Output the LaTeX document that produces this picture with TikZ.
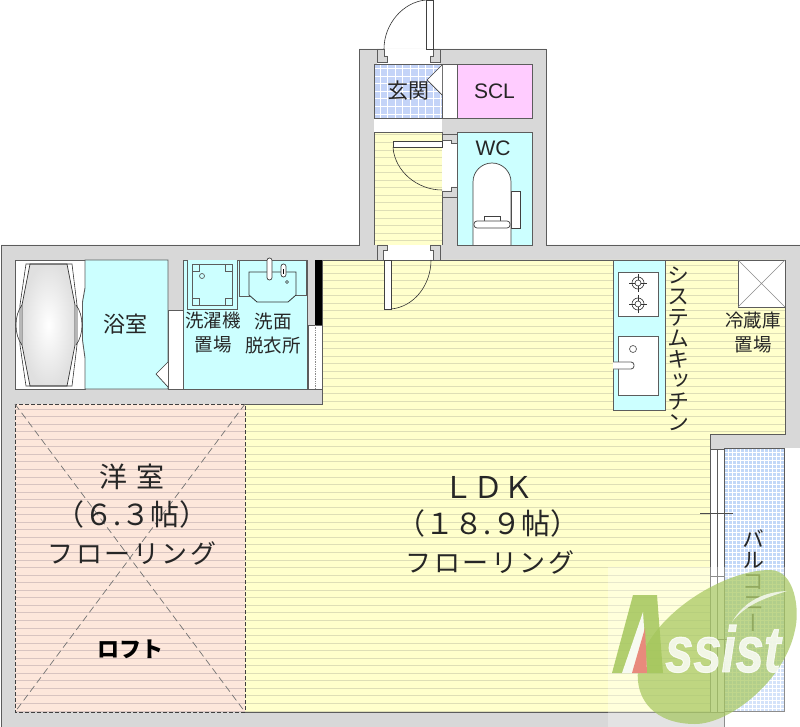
\documentclass[tikz,border=0pt]{standalone}
\usepackage{fontspec}
\setmainfont{Liberation Sans}
\newfontfamily\cjk{Noto Sans CJK JP}
\newfontfamily\cjkspaced{Noto Sans CJK JP}[LetterSpace=10]
\newfontfamily\cjkvert{Noto Sans CJK JP}[RawFeature={+vert}]
\newfontfamily\logofont{Liberation Sans}[FakeBold=1.5]
\usepackage{xcolor}
\usetikzlibrary{calc}
\definecolor{wallgray}{HTML}{D8D8D8}
\definecolor{edgegray}{HTML}{5C5C5C}
\definecolor{floorcream}{HTML}{FFFFCC}
\definecolor{floorline}{HTML}{DEDEB6}
\definecolor{floorpeach}{HTML}{FDE7DB}
\definecolor{peachline}{HTML}{D8C4C0}
\definecolor{wetcyan}{HTML}{CCFFFF}
\definecolor{tileblue}{HTML}{C4D4F8}
\definecolor{balconyblue}{HTML}{C2D8F8}
\definecolor{sclpink}{HTML}{FFCCFF}
\definecolor{logogreen}{HTML}{A4C65C}
\definecolor{logored}{HTML}{E88A7C}
\tikzset{
 edge/.style={draw=edgegray, line width=.9},
 fixture/.style={draw=black!75, line width=.7, fill=white},
 thinline/.style={draw=black!80, line width=.6},
 jamb/.style={edge, fill=wallgray},
 lbl/.style={inner sep=0, text=black!85, align=center, font=\cjk\fontsize{#1}{24}\selectfont},
 lblwide/.style={inner sep=0, text=black!85, align=center, font=\cjkspaced\fontsize{#1}{24}\selectfont},
 lblvert/.style={inner sep=0, text=black!85, align=center, font=\cjkvert\fontsize{22}{21}\selectfont},
 lbllatin/.style={inner sep=0, text=black!85, font=\fontsize{21}{24}\selectfont},
}
\begin{document}
\begin{tikzpicture}[x=1pt,y=-1pt]
\useasboundingbox (0,0) rectangle (800,727);
\fill[white] (0,0) rectangle (800,727);

% walls
\draw[edge, fill=wallgray] (359,49) -- (546,49) -- (546,245) -- (800,245) -- (800,448) -- (784,448)
 -- (724,448) -- (724,727) -- (1,727) -- (1,245) -- (359,245) -- cycle;
\fill[white] (784,448) rectangle (800,727);

% floors
\fill[floorcream] (322,260) -- (785,260) -- (785,434) -- (710,434) -- (710,712) -- (245,712) -- (245,404) -- (322,404) -- cycle;
\fill[floorcream] (374,132) rectangle (442,245);
\fill[floorpeach] (15,404) rectangle (245,712);
\begin{scope}
\clip (322,260) -- (785,260) -- (785,434) -- (710,434) -- (710,712) -- (245,712) -- (245,404) -- (322,404) -- cycle;
\foreach \k in {0,...,59} {
 \draw[floorline, line width=1] (240,265.6+7.55*\k) -- (790,265.6+7.55*\k);
}
\end{scope}
\begin{scope}
\clip (374,132) rectangle (442,245);
\foreach \k in {0,...,14} {
 \draw[floorline, line width=1] (370,135+7.55*\k) -- (445,135+7.55*\k);
}
\end{scope}
\begin{scope}
\clip (15,404) rectangle (245,712);
\foreach \k in {19,...,59} {
 \draw[peachline, line width=1] (10,265.6+7.55*\k) -- (250,265.6+7.55*\k);
}
\end{scope}
\draw[edgegray, line width=.8] (322,260) -- (785,260) -- (785,434) -- (710,434) -- (710,712) -- (245,712);
\draw[edgegray, line width=.8] (374,132) -- (374,245) (442,132) -- (442,245) (374,132) -- (442,132);

% loft
\draw[black!75, line width=.9, dash pattern=on 4pt off 2pt] (15,404) rectangle (245,712);
\draw[black!55, line width=.7, dash pattern=on 7pt off 4pt] (15,404) -- (245,712) (245,404) -- (15,712);

% entrance, storage and WC
\fill[white] (374,118) rectangle (442,132);
\draw[edge, fill=white] (442,64) rectangle (457,118);
\draw[edge, fill=tileblue] (374,64) rectangle (442,118);
\draw[white, line width=.7] (374,64) grid[step=7.6pt] (442,118);
\draw[edge] (374,64) rectangle (442,118);
\draw[fixture] (442,65) -- (427,80) -- (442,95);
\draw[edge, fill=sclpink] (457,64) rectangle (532,118);
\draw[edge, fill=wetcyan] (457,132) rectangle (532,245);

% doors
\fill[white] (377,49) rectangle (440,64);
\draw[jamb] (377,49) -- (377,62) -- (387,62) -- (387,56) -- (384,56) -- (384,49) -- cycle;
\draw[jamb] (440,49) -- (440,62) -- (430,62) -- (430,56) -- (433,56) -- (433,49) -- cycle;
\draw[fixture] (426,0) rectangle (433,49);
\draw[thinline] (426,0) .. controls (403,2) and (384,24) .. (384,49);
\fill[white] (442,134) rectangle (457,197);
\draw[jamb] (442,134) -- (457,134) -- (457,143) -- (451,143) -- (451,140) -- (442,140) -- cycle;
\draw[jamb] (457,187) -- (457,197) -- (442,197) -- (442,191) -- (451,191) -- (451,187) -- cycle;
\draw[fixture] (393,141.5) rectangle (442,147.5);
\draw[thinline] (393,147.5) .. controls (395,172) and (418,190) .. (442,190);
\fill[white] (377,245) rectangle (440,260);
\draw[jamb] (377,245) -- (387,245) -- (387,250) -- (383,250) -- (383,260) -- (377,260) -- cycle;
\draw[jamb] (440,245) -- (430,245) -- (430,250) -- (433,250) -- (433,260) -- (440,260) -- cycle;
\draw[fixture] (384,260) rectangle (391,309);
\draw[thinline] (391,309) .. controls (414,307) and (431,285) .. (431,260);

% toilet
\draw[fixture] (511,191) rectangle (520,228);
\draw[fixture] (473,245) -- (473,182) arc[start angle=180, end angle=360, radius=19] -- (511,245);
\draw[fixture] (484,221) -- (484,216) -- (500,216) -- (500,221);
\draw[fixture, rounded corners=3] (474,221) rectangle (510,228);

% bath and washroom
\draw[edge, fill=white] (15,260) rectangle (85,389);
\draw[edge, fill=wetcyan] (85,260) -- (168,260) -- (168,389) -- (85,389) -- (85,358) -- (82.5,340) -- (82.5,302) -- (85,288) -- cycle;
\draw[fixture] (168,362) -- (156,374) -- (168,387);
\draw[edge, fill=white] (168,310) rectangle (183,389);
\draw[edge, fill=wetcyan] (183,260) rectangle (307,389);
\draw[thinline] (22,305) .. controls (14,315) and (14,335) .. (22,345);
\draw[thinline] (76,305) .. controls (84,315) and (84,335) .. (76,345);
\draw[black!80, line width=.7, inner color=white, outer color=black!12] (30,264) -- (67,264) -- (75,305) -- (75,345) -- (67,386) -- (30,386) -- (22,345) -- (22,305) -- cycle;
\draw[thinline] (26,264) -- (30,264) -- (67,264) -- (72,264) -- (77,305) -- (77,345) -- (72,386) -- (26,386) -- (20,345) -- (20,305) -- cycle;
\draw[edgegray, line width=.8, fill=wetcyan] (187,260) -- (187,309) -- (237,309) -- (237,260);
\draw[edgegray, line width=.8, fill=wetcyan] (192,264) rectangle (232,305);
\foreach \x/\y in {192/264, 225/264, 192/298, 225/298} {
 \draw[edgegray, line width=.8] (\x,\y) rectangle ++(7,7);
}
\draw[edgegray, line width=.7] (202,276) circle (2.5);
\draw[edgegray, line width=.8] (239,260) -- (239,296) -- (250,296) (306,260) -- (306,295) -- (296,295);
\draw[black!80, line width=.8, fill=wetcyan] (249,272) -- (296,272) -- (296,295) -- (288,302) -- (257,302) -- (249,295) -- cycle;
\draw[fixture, rounded corners=2.4] (267,258) rectangle (272,280);
\draw[fixture, rounded corners=2.4] (281,264) rectangle (286,277);
\draw[black, line width=1] (283,269) -- (283,274);
\draw[black!80, line width=.7] (287,282) circle (1.5);
\fill[wallgray] (308,260) rectangle (315,325);
\fill[black] (315,260) rectangle (322,325);
\draw[edge, fill=white] (308,325) rectangle (322,389);
\draw[black!45, line width=.7, densely dotted] (315,325) -- (315,389);
\draw[edgegray, line width=.8] (322,260) -- (322,404) -- (245,404);

% kitchen
\draw[edge, fill=wetcyan] (613,260) rectangle (665,410);
\draw[edge, fill=white] (618,272) rectangle (658,316);
\foreach \y in {283,304} {
 \draw[thinline] (638,\y) circle (6);
 \draw[thinline] (629,\y) -- (647,\y) (638,\y-9) -- (638,\y+9);
 \fill[white] (638,\y) circle (3);
 \draw[thinline] (638,\y) circle (3);
}
\draw[edge, fill=white] (618,336) rectangle (658,395);
\draw[edgegray, line width=.7] (633,349) circle (3.5);
\draw[edge, fill=white, rounded corners=3] (613,362) -- (634,362) -- (634,369) -- (613,369);
\draw[edge, fill=white] (738,260) rectangle (785,307);
\draw[black!45, line width=.6] (738,260) -- (785,307) (785,260) -- (738,307);

% balcony and window
\draw[edge, fill=white] (710,449) rectangle (724,712);
\draw[edgegray, line width=.7] (717,449) -- (717,712);
\draw[edgegray, line width=.7] (710,576) -- (724,576);
\fill[balconyblue] (724,448) rectangle (784,711);
\draw[white, line width=.5] (724,448) grid[step=4pt] (784,711);
\draw[edge] (724,448) rectangle (784,711);
\draw[black!70, line width=.7] (700,513) -- (733,513) (700,639) -- (733,639);

% labels
\node[lbl=21] (entry) at (408,91) {玄関};
\node[lbllatin] (scl) at (494.5,91) {SCL};
\node[lbllatin] (wc) at (493,148) {WC};
\node[lbl=22] (bath) at (125,324) {浴室};
\node[lbl=18.5] (washer) at (213,333) {洗濯機\\置場};
\node[lbl=18.5] (basin) at (273,333) {洗面\\脱衣所};
\node[lbl=18.5] (fridge) at (753,333) {冷蔵庫\\置場};
\node[lblvert] (kitchen) at (678,349) {シ\\ス\\テ\\ム\\キ\\ッ\\チ\\ン};
\node[lblvert] (balcony) at (753,581) {バ\\ル\\コ\\ニ\\ー};
\node[lbl=28] (western) at (132,477) {洋\hspace{9pt}室};
\node[lbl=29] (westernsize) at (132,514) {（６.３帖）};
\node[lblwide=26] (westernfloor) at (132,553) {フローリング};
\node[inner sep=0, text=black, font=\cjk\bfseries\fontsize{22}{24}\selectfont] (loft) at (130,649) {ロフト};
\node[lbl=30] (ldk) at (488,487) {ＬＤＫ};
\node[lbl=29] (ldksize) at (488,523) {（１８.９帖）};
\node[lblwide=26] (ldkfloor) at (490,562) {フローリング};

% logo
\fill[white, opacity=.3] (608,567) rectangle (800,727);
\fill[logogreen, opacity=.7] (770,570) .. controls (795,570) and (800,610) .. (795,630)
 .. controls (785,680) and (730,724) .. (695,724) .. controls (655,724) and (635,700) .. (638,670)
 .. controls (645,620) and (720,570) .. (770,570) -- cycle;
\fill[white, opacity=.75] (732,622) .. controls (745,600) and (765,592) .. (787,591)
 .. controls (765,598) and (745,605) .. (732,622) -- cycle;
\fill[logogreen, opacity=.85] (612,673) -- (633,595) -- (657,595) -- (663,673) -- cycle;
\fill[white, opacity=.9] (643,612) -- (647,673) -- (622,673) -- cycle;
\fill[logored] (645,628) -- (647,673) -- (632,673) -- cycle;
\node[inner sep=0, anchor=base west, xscale=.78, text=white, opacity=.8, font=\logofont\bfseries\itshape\fontsize{65}{65}\selectfont] (assist) at (665,672) {ssist};
\end{tikzpicture}
\end{document}
